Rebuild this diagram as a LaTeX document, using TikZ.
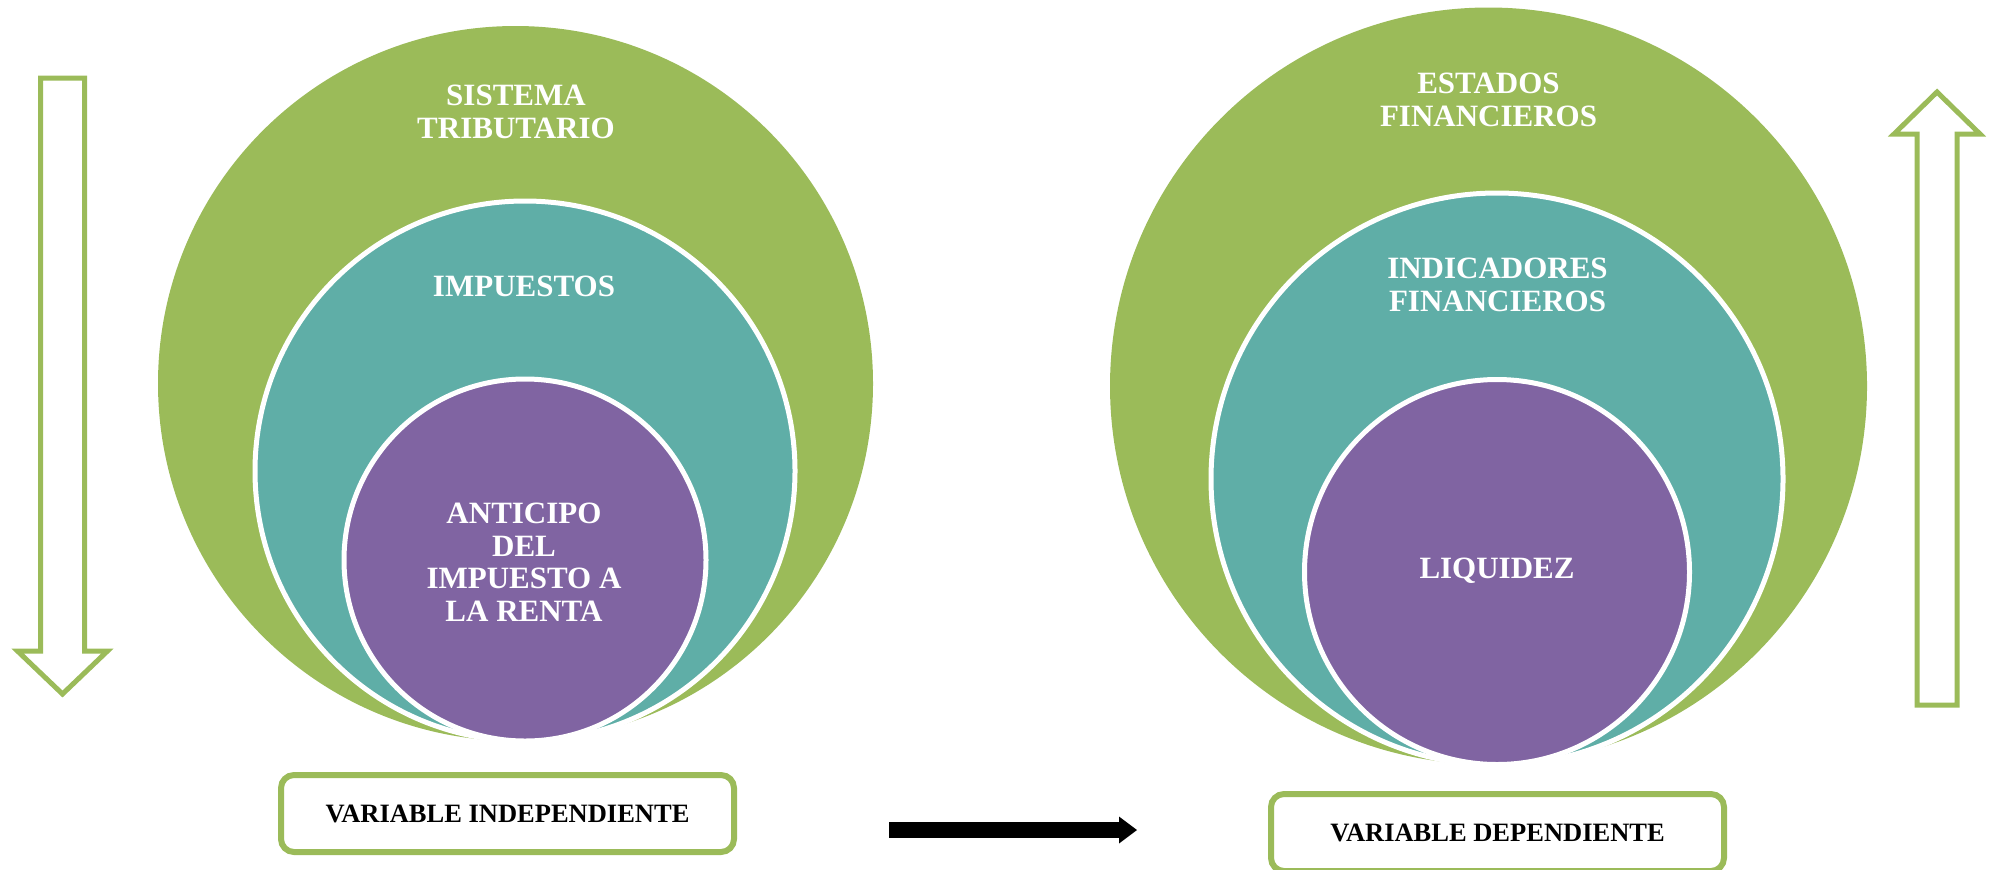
\documentclass[tikz,border=0pt]{standalone}
\usepackage{fontspec}
\setmainfont{Liberation Serif}
\usetikzlibrary{arrows.meta}
\definecolor{vgreen}{HTML}{9BBB59}
\definecolor{vteal}{HTML}{5FAEA7}
\definecolor{vpurple}{HTML}{8064A2}
\begin{document}
\begin{tikzpicture}[x=0.5pt,y=-0.5pt,
  ring/.style={circle, draw=white, line width=2.5pt, inner sep=0pt},
  ctext/.style={text=white, font=\fontsize{15.5pt}{16.25pt}\selectfont\bfseries, align=center, inner sep=0pt, anchor=north},
  varbox/.style={draw=vgreen, line width=3pt, rounded corners=6.5pt, fill=white, minimum width=226.5pt, minimum height=38.5pt, font=\fontsize{13.25pt}{14pt}\selectfont\bfseries, inner sep=0pt},
  blockarrow/.style={draw=vgreen, line width=2.5pt, fill=white}]
\useasboundingbox (0,0) rectangle (1995,869);
% left set of circles
\node[circle, fill=vgreen, inner sep=0pt, minimum size=357.5pt] (g1) at (515.5,383.5) {};
\node[ring, fill=vteal, minimum size=270pt] (t1) at (525,471) {};
\node[ring, fill=vpurple, minimum size=181pt] (p1) at (525,560) {};
% right set of circles
\node[circle, fill=vgreen, inner sep=0pt, minimum size=378.5pt] (g2) at (1488.5,386) {};
\node[ring, fill=vteal, minimum size=286pt] (t2) at (1497,479) {};
\node[ring, fill=vpurple, minimum size=192.5pt] (p2) at (1497,572) {};
% texts
\node[ctext] (tg1) at (516,85) {SISTEMA\\TRIBUTARIO};
\node[ctext] (tt1) at (524,276) {IMPUESTOS};
\node[ctext] (tp1) at (524,503) {ANTICIPO\\DEL\\IMPUESTO A\\LA RENTA};
\node[ctext] (tg2) at (1488.5,73) {ESTADOS\\FINANCIEROS};
\node[ctext] (tt2) at (1497.5,258) {INDICADORES\\FINANCIEROS};
\node[ctext] (tp2) at (1497,558) {LIQUIDEZ};
% variable boxes
\node[varbox] (vi) at (507.5,813.5) {VARIABLE INDEPENDIENTE};
\node[varbox] (vd) at (1497.5,832.5) {VARIABLE DEPENDIENTE};
% hollow block arrows
\draw[blockarrow] (40.5,78) -- (84.5,78) -- (84.5,651) -- (107.5,651) -- (62.5,694) -- (17.5,651) -- (40.5,651) -- cycle;
\draw[blockarrow] (1917,705) -- (1957,705) -- (1957,134) -- (1980,134) -- (1937,92) -- (1894,134) -- (1917,134) -- cycle;
% black arrow
\coordinate (ba1) at (889,830);
\coordinate (ba2) at (1137,830);
\draw[line width=8.3pt, -{Triangle[length=9pt,width=13.5pt,line width=0pt]}] (ba1) -- (ba2);
\end{tikzpicture}
\end{document}
